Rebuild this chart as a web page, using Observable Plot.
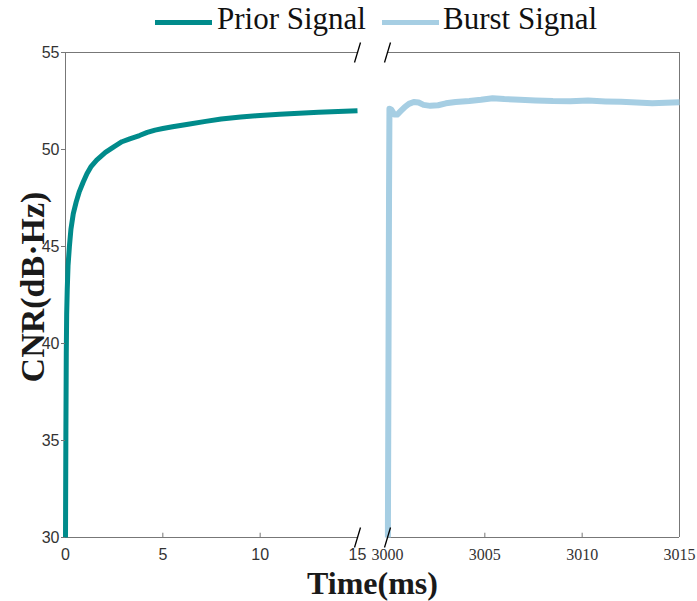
<!DOCTYPE html>
<html>
<head>
<meta charset="utf-8">
<script src="https://cdn.jsdelivr.net/npm/d3@7"></script>
<script src="https://cdn.jsdelivr.net/npm/@observablehq/plot@0.6"></script>
<style>
  body { margin: 0; background: #fff; }
  #wrap { width: 697px; }
  #legend { position: relative; height: 40px; font-family: "Liberation Serif", "Times New Roman", serif; font-size: 31px; color: #111; }
  #legend .sw { position: absolute; height: 5px; }
  #legend .lb { position: absolute; top: 1px; line-height: 36px; white-space: nowrap; }
  svg { display: block; }
</style>
</head>
<body>
<div id="wrap">
  <div id="legend"></div>
  <div id="chart"></div>
</div>
<script>
// ---- data ----
const seriesNames = ["Prior Signal", "Burst Signal"];
const seriesColors = ["#008b8b", "#a6cee3"];

const priorTime = [0, 0.02, 0.04, 0.06, 0.09, 0.13, 0.2, 0.28, 0.4, 0.55, 0.7, 0.9, 1.1, 1.3, 1.6, 2.05, 2.5, 2.9, 3.3, 3.8, 4.2, 4.6, 5.0, 5.5, 6.3, 7.2, 8.0, 9.0, 9.8, 11, 12, 13, 14, 15];
const priorCNR  = [30, 35.5, 39.5, 41.5, 42.8, 44.0, 45.0, 45.9, 46.7, 47.3, 47.8, 48.3, 48.75, 49.1, 49.45, 49.85, 50.15, 50.4, 50.55, 50.72, 50.88, 51.0, 51.08, 51.17, 51.3, 51.45, 51.57, 51.67, 51.74, 51.82, 51.87, 51.92, 51.96, 52.0];

const burstTime = [3000.02, 3000.08, 3000.1, 3000.2, 3000.35, 3000.5, 3000.7, 3000.9, 3001.1, 3001.35, 3001.6, 3001.85, 3002.2, 3002.6, 3003.0, 3003.5, 3004.2, 3004.8, 3005.4, 3006.0, 3006.8, 3007.6, 3008.5, 3009.4, 3010.3, 3011.2, 3012.0, 3012.8, 3013.6, 3014.3, 3015];
const burstCNR  = [30, 48, 52.1, 52.05, 51.8, 51.8, 52.0, 52.2, 52.35, 52.45, 52.42, 52.3, 52.25, 52.28, 52.38, 52.45, 52.5, 52.56, 52.64, 52.6, 52.57, 52.53, 52.5, 52.49, 52.52, 52.48, 52.46, 52.42, 52.39, 52.41, 52.43];

const xDomainPieces = [0, 15, 3000, 3015];
const leftTicks = [0, 5, 10, 15];
const rightTicks = [3000, 3005, 3010, 3015];
const yTicks = [30, 35, 40, 45, 50, 55];
const yDomain = [30, 55];
const xLabel = "Time(ms)";
const yLabel = "CNR(dB·Hz)";

// ---- legend ----
const legend = document.getElementById("legend");
const legendPos = [{sw: 155, lb: 217}, {sw: 382, lb: 443}];
seriesNames.forEach((name, i) => {
  const sw = document.createElement("span");
  sw.className = "sw";
  sw.style.left = legendPos[i].sw + "px";
  sw.style.top = "20px";
  sw.style.width = "57px";
  sw.style.background = seriesColors[i];
  legend.appendChild(sw);
  const lb = document.createElement("span");
  lb.className = "lb";
  lb.style.left = legendPos[i].lb + "px";
  lb.textContent = name;
  legend.appendChild(lb);
});

// ---- chart ----
const prior = priorTime.map((t, i) => ({t, v: priorCNR[i]}));
const burst = burstTime.map((t, i) => ({t, v: burstCNR[i]}));
const slash = {draw(ctx) { ctx.moveTo(-3, 10); ctx.lineTo(3, -10); }};
const breaks = [xDomainPieces[1], xDomainPieces[2]].flatMap(x => yDomain.map(y => ({x, y})));
const frameColor = "#777";
const textColor = "#333";
const sans = "Liberation Sans, Arial, sans-serif";
const serif = "Liberation Serif, Times New Roman, serif";

const chart = Plot.plot({
  width: 697,
  height: 561,
  marginTop: 12,
  marginBottom: 64,
  marginLeft: 65,
  marginRight: 18,
  style: {background: "#fff"},
  x: {type: "linear", domain: xDomainPieces, range: [65, 357, 387, 679], label: null},
  y: {domain: yDomain, label: null},
  marks: [
    Plot.ruleY(yDomain, {x1: xDomainPieces[0], x2: xDomainPieces[1], stroke: frameColor}),
    Plot.ruleY(yDomain, {x1: xDomainPieces[2], x2: xDomainPieces[3], stroke: frameColor}),
    Plot.ruleX([xDomainPieces[0], xDomainPieces[3]], {y1: yDomain[0], y2: yDomain[1], stroke: frameColor}),
    Plot.ruleX([5, 10, 3005, 3010], {y1: yDomain[0], y2: yDomain[0] + 0.22, stroke: frameColor}),
    Plot.line(prior, {x: "t", y: "v", stroke: seriesColors[0], strokeWidth: 5, strokeLinecap: "butt"}),
    Plot.line(burst, {x: "t", y: "v", stroke: seriesColors[1], strokeWidth: 6, strokeLinecap: "butt"}),
    Plot.dot(breaks, {x: "x", y: "y", symbol: slash, r: 10, fill: "none", stroke: "#000", strokeWidth: 1.3}),
    Plot.axisY(yTicks, {tickSize: 4, tickPadding: 2, stroke: frameColor, fill: textColor, fontSize: 16, fontFamily: sans, label: null}),
    Plot.axisX(leftTicks, {tickSize: 0, tickPadding: 11, fill: textColor, fontSize: 16, fontFamily: sans, label: null, tickFormat: d => String(d)}),
    Plot.axisX(rightTicks, {tickSize: 0, tickPadding: 11, fill: textColor, fontSize: 16, fontFamily: serif, label: null, tickFormat: d => String(d)}),
    Plot.text([yLabel], {frameAnchor: "left", rotate: -90, dx: -32, dy: -8, textAnchor: "middle", lineAnchor: "middle", text: d => d, fontSize: 34, fontWeight: "bold", fontFamily: serif, fill: "#1a1a1a"}),
    Plot.text([xLabel], {frameAnchor: "bottom", dy: 46, textAnchor: "middle", lineAnchor: "middle", text: d => d, fontSize: 32, fontWeight: "bold", fontFamily: serif, fill: "#1a1a1a"})
  ]
});
document.getElementById("chart").appendChild(chart);
</script>
</body>
</html>
